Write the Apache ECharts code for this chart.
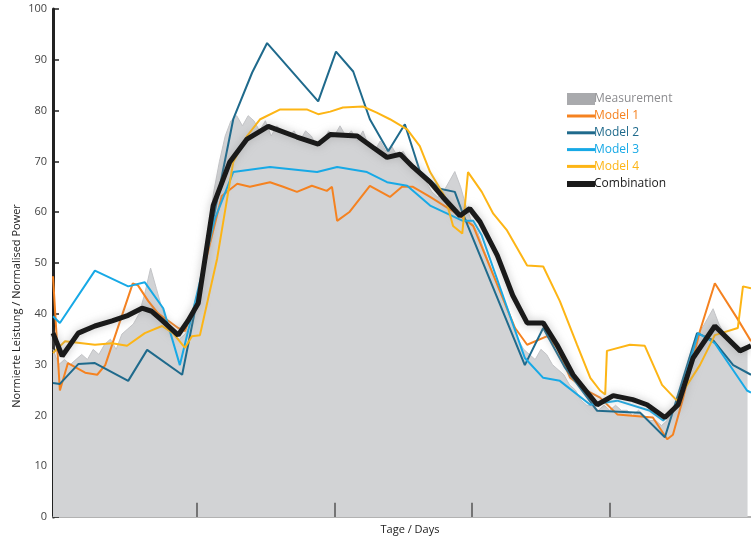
<!DOCTYPE html>
<html>
<head>
<meta charset="utf-8">
<script src="https://cdn.jsdelivr.net/npm/echarts@6/dist/echarts.min.js"></script>
<style>
  html, body { margin: 0; padding: 0; background: #fff; }
  #chart { width: 751px; height: 540px; }
</style>
</head>
<body>
<div id="chart"></div>
<script>
// x = hours from the left edge of the plot, y = normalised power (%)
var dayTicks = [25, 49, 73, 97];

// measurement, one value per hour (0..121)
var measurement = [
    33, 30, 31, 30, 31, 32, 31, 33, 32, 34,
    35, 33, 36, 37, 38, 40, 44, 49, 45, 41,
    38, 36, 35, 36, 38, 42, 48, 56, 64, 70,
    75, 78, 79, 77, 79, 78, 76, 78, 75, 77,
    76, 75, 76, 74, 76, 75, 73, 74, 76, 75,
    77, 75, 76, 74, 76, 73, 72, 74, 72, 73,
    71, 72, 70, 69, 67, 66, 64, 63, 64, 66,
    68, 65, 61, 58, 56, 53, 50, 47, 44, 41,
    38, 35, 33, 32, 31, 33, 32, 30, 29, 28,
    26, 25, 23, 22, 22, 21, 22, 21, 22, 21,
    21, 20, 21, 20, 19, 19, 18, 19, 21, 24,
    28, 32, 35, 37, 39, 41, 38, 36, 35, 33,
    32, 33
];

var model1 = [
    [0, 47.4], [1.2, 24.9], [2.6, 30.3], [5.6, 28.4], [7.7, 28.0], [9.1, 29.9],
    [13.9, 46.0], [14.8, 45.6], [16.6, 42.5], [18.3, 40.1], [21.8, 37.2], [23.0, 36.6],
    [24.7, 41.7], [29.4, 63.2], [32.1, 65.6], [34.3, 65.0], [37.8, 65.9], [40.1, 65.0],
    [42.5, 64.0], [45.1, 65.2], [47.7, 64.2], [48.6, 65.0], [49.5, 58.3], [51.7, 60.1],
    [55.2, 65.2], [58.7, 63.0], [60.8, 65.0], [62.7, 65.0], [65.7, 63.0], [70.9, 59.3],
    [73.2, 57.3], [80.5, 37.2], [82.6, 33.9], [86.1, 35.6], [87.8, 33.3], [90.1, 27.4],
    [93.0, 24.9], [95.3, 23.5], [98.3, 20.2], [104.5, 19.6], [107.0, 15.3], [108.0, 16.2],
    [109.8, 23.5], [112.7, 36.6], [115.3, 46.0], [119.2, 39.1], [121.6, 34.6]
];

var model2 = [
    [0, 26.4], [1.2, 26.2], [4.4, 30.1], [7.3, 30.3], [13.1, 26.8], [16.4, 32.9],
    [22.5, 28.0], [31.4, 78.3], [34.7, 87.5], [37.3, 93.3], [46.2, 81.8], [49.3, 91.6],
    [52.3, 87.7], [55.2, 78.3], [58.4, 72.0], [61.3, 77.3], [63.9, 68.1], [67.4, 64.6],
    [70.0, 64.0], [71.4, 59.7], [82.2, 29.9], [85.4, 37.2], [89.2, 29.4], [94.8, 20.9],
    [102.3, 20.5], [106.6, 15.7], [112.2, 36.2], [115.0, 34.8], [118.5, 29.9], [121.6, 28.0]
];

var model3 = [
    [0, 39.5], [1.2, 38.2], [7.3, 48.5], [13.1, 45.4], [16.0, 46.2], [19.2, 41.1],
    [22.1, 29.9], [24.2, 39.7], [28.2, 58.7], [31.4, 67.9], [37.8, 68.9], [46.0, 67.9],
    [49.5, 68.9], [54.7, 67.9], [58.2, 65.9], [61.7, 65.2], [65.7, 61.3], [71.4, 58.3],
    [73.2, 58.3], [74.7, 55.4], [82.2, 31.3], [85.4, 27.4], [88.3, 26.8], [93.6, 22.1],
    [98.3, 22.9], [104.0, 20.9], [106.3, 19.0], [108.7, 22.1], [112.4, 36.2], [115.3, 34.2],
    [120.9, 24.9], [121.6, 24.5]
];

var model4 = [
    [0, 32.3], [2.1, 34.6], [7.3, 33.9], [10.3, 34.2], [12.9, 33.7], [16.0, 36.2],
    [19.0, 37.6], [20.9, 36.2], [23.0, 33.3], [24.2, 35.6], [25.6, 35.8], [28.6, 50.9],
    [31.4, 69.9], [33.8, 75.0], [36.1, 78.3], [39.5, 80.2], [44.3, 80.2], [46.2, 79.3],
    [48.3, 79.8], [50.5, 80.6], [54.0, 80.8], [56.4, 79.6], [58.7, 78.3], [61.7, 76.3],
    [63.9, 73.0], [65.7, 67.9], [68.3, 63.0], [69.7, 57.3], [71.3, 55.8], [72.3, 67.9],
    [74.7, 64.0], [76.7, 59.7], [79.1, 56.4], [82.6, 49.5], [85.4, 49.3], [88.3, 42.5],
    [91.3, 33.9], [93.6, 27.4], [95.3, 24.9], [96.2, 24.1], [96.5, 32.7], [100.5, 33.9],
    [103.1, 33.7], [106.1, 26.0], [108.7, 22.9], [112.7, 29.9], [115.3, 35.8], [119.3, 37.2],
    [120.2, 45.4], [121.6, 45.0]
];

var combination = [
    [0, 36.2], [1.6, 31.7], [4.4, 36.2], [7.3, 37.6], [10.3, 38.6], [13.1, 39.7],
    [15.5, 41.1], [17.2, 40.5], [19.0, 38.7], [21.8, 35.8], [23.5, 38.6], [25.3, 42.1],
    [27.9, 61.3], [30.8, 69.9], [33.8, 74.4], [37.5, 76.9], [42.5, 74.8], [46.2, 73.4],
    [48.3, 75.3], [53.0, 75.0], [55.7, 72.8], [58.2, 70.8], [60.5, 71.4], [62.7, 68.9],
    [65.7, 65.9], [67.9, 63.0], [70.9, 59.3], [72.6, 60.7], [74.4, 58.1], [77.4, 51.5],
    [80.1, 43.6], [82.6, 38.2], [85.4, 38.2], [87.8, 33.9], [90.6, 28.0], [94.8, 22.1],
    [97.6, 23.9], [101.0, 23.1], [103.5, 22.1], [106.6, 19.6], [108.9, 22.1], [111.5, 31.3],
    [115.3, 37.6], [119.7, 32.7], [121.6, 33.7]
];

var seriesNames = ['Measurement', 'Model 1', 'Model 2', 'Model 3', 'Model 4', 'Combination'];
var seriesColors = ['#a9aaad', '#f58220', '#1f6a8c', '#17a9e6', '#fdb515', '#1a1a1a'];

var chart = echarts.init(document.getElementById('chart'));

function modelLine(idx, data, width) {
    return {
        name: seriesNames[idx],
        type: 'line',
        data: data,
        color: seriesColors[idx],
        showSymbol: false,
        symbol: 'none',
        lineStyle: { width: width, color: seriesColors[idx] },
        z: 2 + idx
    };
}

function legendBox(names, top, itemHeight) {
    return {
        orient: 'vertical',
        left: 562,
        top: top,
        itemWidth: 28,
        itemHeight: itemHeight,
        itemGap: 4.8,
        icon: 'rect',
        textStyle: { fontSize: 12, padding: [0, 0, 0, -6] },
        data: names.map(function (n) {
            var i = seriesNames.indexOf(n);
            return {
                name: n,
                itemStyle: { color: seriesColors[i] },
                textStyle: { color: i === 0 ? '#8c8c8f' : seriesColors[i] }
            };
        })
    };
}

var combo = modelLine(5, combination, 5);
combo.lineStyle.shadowColor = 'rgba(150,150,150,0.6)';
combo.lineStyle.shadowBlur = 8;

var option = {
    animation: false,
    backgroundColor: '#fff',
    textStyle: { fontFamily: '"Open Sans", sans-serif' },
    grid: { left: 53, right: 0, top: 9, bottom: 20 },
    legend: [
        legendBox(['Measurement'], 88, 12),
        legendBox(['Model 1', 'Model 2', 'Model 3', 'Model 4'], 105, 3),
        legendBox(['Combination'], 173, 6)
    ],
    xAxis: {
        type: 'value',
        min: 0,
        max: 121.6,
        name: 'Tage / Days',
        nameLocation: 'middle',
        nameGap: 7,
        nameTextStyle: { fontSize: 11, color: '#222', padding: [0, 0, 0, 16] },
        axisLine: { lineStyle: { color: '#999', width: 1.5 } },
        axisTick: { show: false },
        axisLabel: { show: false },
        splitLine: { show: false }
    },
    yAxis: {
        type: 'value',
        min: 0,
        max: 100,
        interval: 10,
        axisLine: { show: true, lineStyle: { color: '#222', width: 3 } },
        axisTick: { show: true, inside: true, length: 6, lineStyle: { color: '#222', width: 1.5 } },
        axisLabel: { fontSize: 11, color: '#444', margin: 6 },
        splitLine: { show: false }
    },
    graphic: [{
        type: 'text',
        x: 17,
        y: 306,
        rotation: Math.PI / 2,
        style: {
            text: 'Normierte Leistung / Normalised Power',
            fontSize: 11,
            fill: '#222',
            align: 'center',
            verticalAlign: 'middle',
            fontFamily: '"Open Sans", sans-serif'
        }
    }],
    series: [
        {
            name: seriesNames[0],
            type: 'line',
            data: measurement.map(function (v, i) { return [i, v]; }),
            color: seriesColors[0],
            showSymbol: false,
            symbol: 'none',
            lineStyle: { width: 1, color: '#c3c4c7' },
            areaStyle: { color: '#d2d3d5', opacity: 1 },
            z: 1,
            // day separators drawn as short ticks standing on the x axis
            markLine: {
                silent: true,
                symbol: 'none',
                label: { show: false },
                lineStyle: { color: '#555', width: 1.5, type: 'solid' },
                data: dayTicks.map(function (d) {
                    return [{ coord: [d, 0] }, { coord: [d, 2.8] }];
                })
            }
        },
        modelLine(1, model1, 2),
        modelLine(2, model2, 2),
        modelLine(3, model3, 2),
        modelLine(4, model4, 2),
        combo
    ]
};
chart.setOption(option);
</script>
</body>
</html>
